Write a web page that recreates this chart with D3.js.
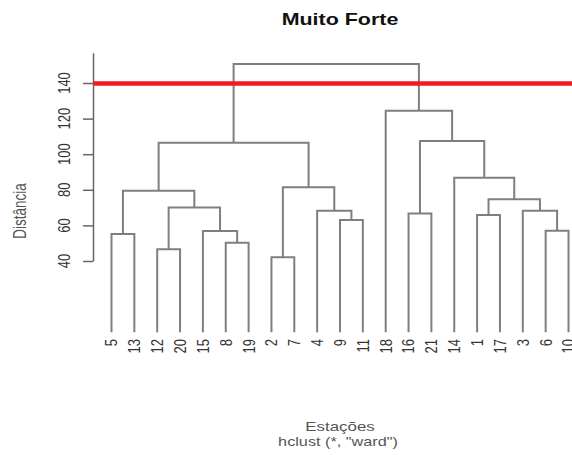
<!DOCTYPE html>
<html><head><meta charset="utf-8">
<script src="https://cdn.jsdelivr.net/npm/d3@7"></script>
<style>body{margin:0;background:#fff}svg{display:block}text{font-family:"Liberation Sans",Arial,sans-serif}</style>
</head><body><svg id="c" width="572" height="455"></svg>
<script>
// R-style hclust merge matrix: negative = leaf (station number), positive = earlier merge (1-based)
const mergeLeft  = [-2, -12, -8, -5, -15, -6, -9, -1, -16, -4, -3, 2, 8, 4, 1, -14, 14, 9, -18, 17];
const mergeRight = [-7, -20, -19, -13, 3, -10, -11, -17, -21, 7, 6, 5, 11, 12, 10, 13, 15, 16, 18, 19];
const mergeHeight = [42.1, 46.6, 50.3, 55.2, 56.9, 57.0, 63.0, 65.8, 66.7, 68.3, 68.3, 70.0, 74.7, 79.5, 81.4, 86.8, 106.5, 107.4, 124.4, 150.7];
const yTicks = [40, 60, 80, 100, 120, 140];
const cutHeight = 139.7;
const title = "Muito Forte";
const xTitle = "Estações";
const subTitle = 'hclust (*, "ward")';
const yTitle = "Distância";

const svg = d3.select("#c");
const sx = 1.3; // horizontal stretch of the reference

function build(i) {
  if (i < 0) return {label: String(-i), height: 0};
  return {height: mergeHeight[i-1], children: [build(mergeLeft[i-1]), build(mergeRight[i-1])]};
}
const root = d3.hierarchy(build(mergeHeight.length));
const leaves = root.leaves();
const x = d3.scalePoint().domain(leaves.map(d => d.data.label)).range([111.5, 568.5]);
const y = d3.scaleLinear().domain([40, 140]).range([261, 83]);

root.eachAfter(n => {
  n.px = n.children ? d3.mean(n.children, c => c.px) : x(n.data.label);
});

const g = svg.append("g");
root.descendants().filter(n => n.children).forEach(n => {
  const [a, b] = n.children;
  const p = d3.path();
  p.moveTo(a.px, y(a.data.height));
  p.lineTo(a.px, y(n.data.height));
  p.lineTo(b.px, y(n.data.height));
  p.lineTo(b.px, y(b.data.height));
  g.append("path").attr("d", p.toString()).attr("fill", "none")
    .attr("stroke", "#7f7f7f").attr("stroke-width", 2);
});

// leaf labels
svg.append("g").selectAll("text").data(leaves).join("text")
  .attr("transform", d => `translate(${d.px},339) scale(${sx},1) rotate(-90)`)
  .attr("text-anchor", "end").attr("dy", "0.35em")
  .attr("font-size", 13).attr("fill", "#333")
  .text(d => d.data.label);

// y axis
const yAxisScale = y.copy().domain([40, 157]).range([y(40), y(157)]);
const ax = svg.append("g").attr("transform", "translate(93,0)")
  .call(d3.axisLeft(yAxisScale).tickValues(yTicks).tickSize(10).tickSizeOuter(0).tickFormat(d3.format("d")));
ax.select(".domain").attr("stroke", "#666").attr("stroke-width", 1.5);
ax.selectAll(".tick line").attr("stroke", "#666").attr("stroke-width", 1.5);
ax.selectAll(".tick text").remove();
svg.append("g").selectAll("text").data(yTicks).join("text")
  .attr("transform", d => `translate(64,${y(d)}) scale(1.26,1) rotate(-90)`)
  .attr("text-anchor", "middle").attr("dy", "0.35em")
  .attr("font-size", 13).attr("fill", "#333").text(d => d);

// cut line
svg.append("line").attr("x1", 93).attr("x2", 572)
  .attr("y1", y(cutHeight)).attr("y2", y(cutHeight))
  .attr("stroke", "#ee1d25").attr("stroke-width", 4.5);

// titles
svg.append("text").attr("transform", `translate(340,25) scale(1.34,1)`)
  .attr("text-anchor", "middle").attr("font-size", 16).attr("font-weight", "bold")
  .attr("fill", "#111").text(title);
svg.append("text").attr("transform", `translate(340,431) scale(${sx},1)`)
  .attr("text-anchor", "middle").attr("font-size", 13).attr("fill", "#555").text(xTitle);
svg.append("text").attr("transform", `translate(338,446) scale(${sx},1)`)
  .attr("text-anchor", "middle").attr("font-size", 12.5).attr("fill", "#555").text(subTitle);
svg.append("text").attr("transform", `translate(20,211) scale(${sx},1) rotate(-90)`)
  .attr("text-anchor", "middle").attr("dy", "0.35em")
  .attr("font-size", 13.5).attr("fill", "#555").text(yTitle);
</script></body></html>
